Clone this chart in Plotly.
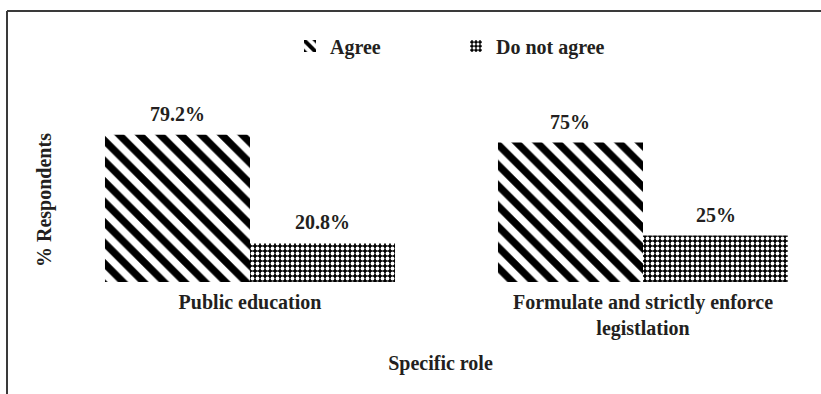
import plotly.graph_objects as go

categories = ["Public education", "Formulate and strictly enforce<br>legistlation"]
agree = [79.2, 75]
not_agree = [20.8, 25]
agree_labels = ["79.2%", "75%"]
not_agree_labels = ["20.8%", "25%"]
series_names = ["Agree", "Do not agree"]
y_title = "% Respondents"
x_title = "Specific role"

FONT = "Liberation Serif"
TXT = "#231f20"
FS = 20
W = 0.369
xs = list(range(len(categories)))

fig = go.Figure()
fig.add_trace(go.Bar(
    x=xs, y=agree, name=series_names[0], offset=-W, width=W,
    marker=dict(color="black", line=dict(width=0),
                pattern=dict(shape="\\", fgcolor="black", bgcolor="white",
                             size=14.5, solidity=0.5, fillmode="replace")),
))
fig.add_trace(go.Bar(
    x=xs, y=not_agree, name=series_names[1], offset=0, width=W,
    marker=dict(color="black", line=dict(width=0),
                pattern=dict(shape=".", fgcolor="white", bgcolor="black",
                             size=5, solidity=0.45, fillmode="replace")),
))

L = 60
PW = 821 - L
fx = (7 - L) / PW
fy = (282 - 11) / 186

annotations = []
for i in xs:
    annotations.append(dict(x=i - W / 2, y=agree[i], text=agree_labels[i], showarrow=False,
                            yshift=21, yanchor="middle", xref="x", yref="y",
                            font=dict(family=FONT, size=FS, color=TXT, weight="bold")))
    annotations.append(dict(x=i + W / 2, y=not_agree[i], text=not_agree_labels[i], showarrow=False,
                            yshift=21, yanchor="middle", xref="x", yref="y",
                            font=dict(family=FONT, size=FS, color=TXT, weight="bold")))
annotations.append(dict(x=(44 - L) / PW, y=(282 - 200) / 186, xref="paper", yref="paper",
                        text=y_title, textangle=-90, showarrow=False,
                        xanchor="center", yanchor="middle",
                        font=dict(family=FONT, size=FS, color=TXT, weight="bold")))

fig.update_layout(
    width=821, height=394,
    margin=dict(l=L, r=0, t=96, b=112),
    paper_bgcolor="white", plot_bgcolor="white",
    barmode="overlay",
    font=dict(family=FONT, size=FS, color=TXT, weight="bold"),
    showlegend=True,
    legend=dict(orientation="h", xref="container", yref="container",
                x=290 / 821, y=0.883, xanchor="left", yanchor="middle",
                entrywidth=121, entrywidthmode="pixels",
                font=dict(family=FONT, size=FS, color=TXT, weight="bold"),
                itemwidth=30, bgcolor="rgba(0,0,0,0)"),
    xaxis=dict(range=[-(250 - L) / 393, -(250 - L) / 393 + PW / 393],
               tickvals=xs, ticktext=categories,
               showgrid=False, zeroline=False, showline=False, ticks="",
               ticklabelstandoff=6,
               tickfont=dict(family=FONT, size=FS, color=TXT, weight="bold"),
               title=dict(text=x_title, standoff=16,
                          font=dict(family=FONT, size=FS, color=TXT, weight="bold"))),
    yaxis=dict(range=[0, 100], showticklabels=False, showgrid=False, zeroline=False,
               showline=False, ticks=""),
    annotations=annotations,
    shapes=[
        dict(type="line", xref="paper", yref="paper", x0=fx, x1=1.01, y0=fy, y1=fy,
             line=dict(color="#3a3a3a", width=2)),
        dict(type="line", xref="paper", yref="paper", x0=fx, x1=fx, y0=fy, y1=-1,
             line=dict(color="#3a3a3a", width=2)),
    ],
)
fig.write_html("out.html")
